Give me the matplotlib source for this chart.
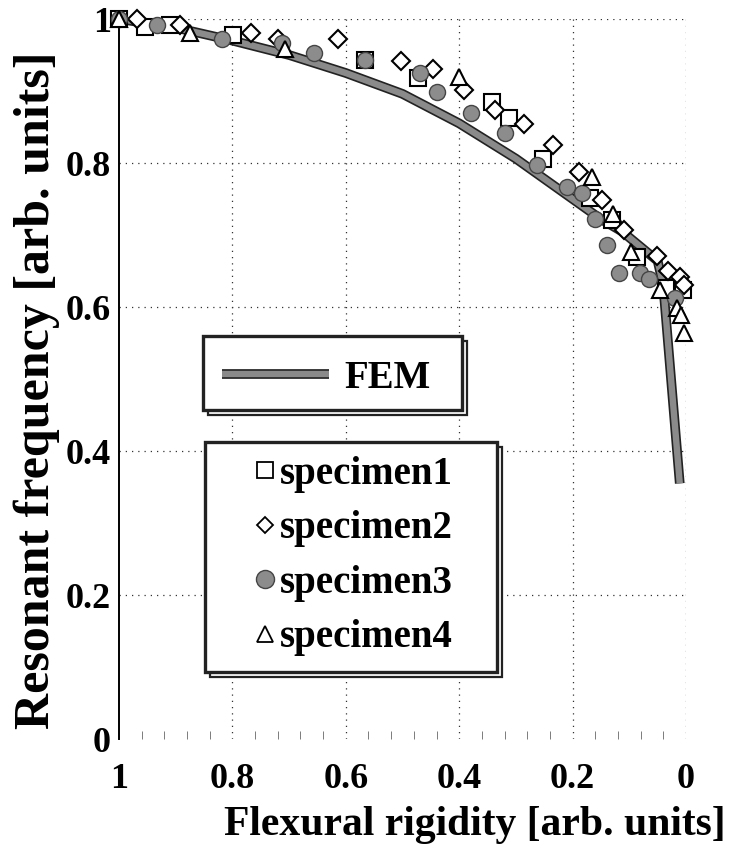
import numpy as np
import matplotlib
matplotlib.use('Agg')
import matplotlib.pyplot as plt
import matplotlib.patheffects as pe
from matplotlib.lines import Line2D
from matplotlib.patches import Rectangle
from matplotlib.transforms import offset_copy

plt.rcParams['font.family'] = 'Liberation Serif'
plt.rcParams['font.weight'] = 'bold'
plt.rcParams['axes.labelweight'] = 'bold'

# FEM curve
fem_x = [1.0, 0.9, 0.8, 0.7, 0.6, 0.5, 0.4, 0.3, 0.2, 0.15, 0.113, 0.07, 0.05, 0.043, 0.038, 0.011]
fem_y = [1.0, 0.988, 0.970, 0.950, 0.925, 0.896, 0.855, 0.806, 0.750, 0.722, 0.705, 0.677, 0.664, 0.64, 0.61, 0.355]

# measured specimens
sp1_x = [1.0, 0.954, 0.910, 0.799, 0.566, 0.473, 0.343, 0.312, 0.253, 0.169, 0.131, 0.087, 0.035, 0.005]
sp1_y = [1.0, 0.989, 0.992, 0.978, 0.943, 0.918, 0.885, 0.863, 0.806, 0.751, 0.721, 0.670, 0.626, 0.624]

sp2_x = [0.968, 0.892, 0.767, 0.720, 0.614, 0.503, 0.447, 0.392, 0.337, 0.286, 0.235, 0.189,
         0.148, 0.110, 0.052, 0.032, 0.011, 0.003]
sp2_y = [1.0, 0.992, 0.980, 0.972, 0.972, 0.942, 0.931, 0.901, 0.873, 0.854, 0.825, 0.787,
         0.748, 0.707, 0.671, 0.650, 0.642, 0.631]

sp3_x = [1.0, 0.933, 0.818, 0.712, 0.656, 0.566, 0.470, 0.440, 0.379, 0.319, 0.262, 0.209,
         0.183, 0.160, 0.139, 0.118, 0.081, 0.066, 0.020]
sp3_y = [1.0, 0.992, 0.972, 0.967, 0.953, 0.943, 0.925, 0.898, 0.870, 0.841, 0.797, 0.767,
         0.758, 0.722, 0.686, 0.647, 0.647, 0.639, 0.612]

sp4_x = [1.0, 0.875, 0.707, 0.400, 0.166, 0.128, 0.097, 0.046, 0.016, 0.008, 0.004]
sp4_y = [1.0, 0.980, 0.958, 0.920, 0.781, 0.729, 0.676, 0.624, 0.598, 0.589, 0.564]

ticks = [0, 0.2, 0.4, 0.6, 0.8, 1]
tick_labels = ['0', '0.2', '0.4', '0.6', '0.8', '1']

fig = plt.figure(figsize=(7.36, 8.68), dpi=100)
ax = fig.add_axes([119/736, 1-739/868, 567/736, 720/868])

line_fx = [pe.Stroke(linewidth=7, foreground='#222222'), pe.Normal()]
ax.plot(fem_x, fem_y, color='#8a8a8a', lw=4.6, zorder=2, path_effects=line_fx,
        solid_capstyle='butt')

ms = 11
ax.plot(sp1_x, sp1_y, ls='none', marker='s', ms=ms, mfc='white', mec='black', mew=1.5,
        zorder=3, clip_on=False)
ax.plot(sp2_x, sp2_y, ls='none', marker='D', ms=ms*0.8, mfc='white', mec='black', mew=1.5,
        zorder=3, clip_on=False)
ax.plot(sp3_x, sp3_y, ls='none', marker='o', ms=ms*1.05, mfc='#8c8c8c', mec='#444444', mew=1.0,
        zorder=4, clip_on=False)
ax.plot(sp4_x, sp4_y, ls='none', marker='^', ms=ms, mfc='white', mec='black', mew=1.5,
        zorder=5, clip_on=False)

ax.set_xlim(1, 0)
ax.set_ylim(0, 1)
ax.set_xticks(ticks)
ax.set_xticklabels(tick_labels)
ax.set_yticks(ticks)
ax.set_yticklabels(tick_labels)
ax.set_xticks(np.arange(0.04, 1.0, 0.04), minor=True)
ax.tick_params(axis='both', which='major', labelsize=26, length=0)
ax.tick_params(axis='x', which='major', pad=17)
ax.tick_params(axis='y', which='major', pad=6)
ax.tick_params(axis='x', which='minor', direction='in', length=6, width=0.6, color='#666666')

for s in ['top', 'right', 'bottom']:
    ax.spines[s].set_visible(False)
ax.spines['left'].set_linewidth(1.4)

ax.grid(True, which='major', ls=(0, (1, 4)), color='#333333', lw=0.9)
ax.yaxis.get_gridlines()[0].set_visible(False)
ax.xaxis.get_gridlines()[-1].set_visible(False)

ax.set_xlabel('Flexural rigidity [arb. units]', fontsize=30)
ax.xaxis.set_label_coords((475 - 119) / 567, (739 - 806) / 720)
ax.set_ylabel('Resonant frequency [arb. units]', fontsize=36)
ax.yaxis.set_label_coords((60 - 119) / 567, (739 - 390) / 720)


def framed_box(x0, y0, x1, y1):
    # legend frame with an outlined drop shadow
    ax0 = (x0 - 119) / 567
    ay0 = (739 - y1) / 720
    w = (x1 - x0) / 567
    h = (y1 - y0) / 720
    shadow_tr = offset_copy(ax.transAxes, fig=fig, x=5, y=-5, units='dots')
    ax.add_patch(Rectangle((ax0, ay0), w, h, transform=shadow_tr, fc='white', ec='#222222',
                           lw=1.6, zorder=6, clip_on=False))
    ax.add_patch(Rectangle((ax0, ay0), w, h, transform=ax.transAxes, fc='white', ec='#222222',
                           lw=2.4, zorder=7, clip_on=False))


framed_box(203, 336, 462, 410)
framed_box(205, 442, 497, 672)

fem_handle = Line2D([], [], color='#8a8a8a', lw=4.6, path_effects=line_fx, solid_capstyle='butt')
leg1 = ax.legend([fem_handle], ['FEM'], loc='center left',
                 bbox_to_anchor=((222 - 119) / 567, (739 - 378) / 720),
                 frameon=False, fontsize=28, handlelength=2.75, handletextpad=0.4,
                 borderpad=0, borderaxespad=0)
leg1.set_zorder(8)
ax.add_artist(leg1)

h1 = Line2D([], [], ls='none', marker='s', ms=12, mfc='white', mec='black', mew=1.3)
h2 = Line2D([], [], ls='none', marker='D', ms=8.5, mfc='white', mec='black', mew=1.3)
h3 = Line2D([], [], ls='none', marker='o', ms=13, mfc='#8c8c8c', mec='#444444', mew=1.0)
h4 = Line2D([], [], ls='none', marker='^', ms=11, mfc='white', mec='black', mew=1.3)
leg2 = ax.legend([h1, h2, h3, h4], ['specimen1', 'specimen2', 'specimen3', 'specimen4'],
                 loc='center left', bbox_to_anchor=((255 - 119) / 567, (739 - 556) / 720),
                 frameon=False, fontsize=28, handlelength=0.5, handletextpad=0.13,
                 labelspacing=0.45, borderpad=0, borderaxespad=0, numpoints=1)
leg2.set_zorder(8)

fig.savefig('out.png', dpi=100)
